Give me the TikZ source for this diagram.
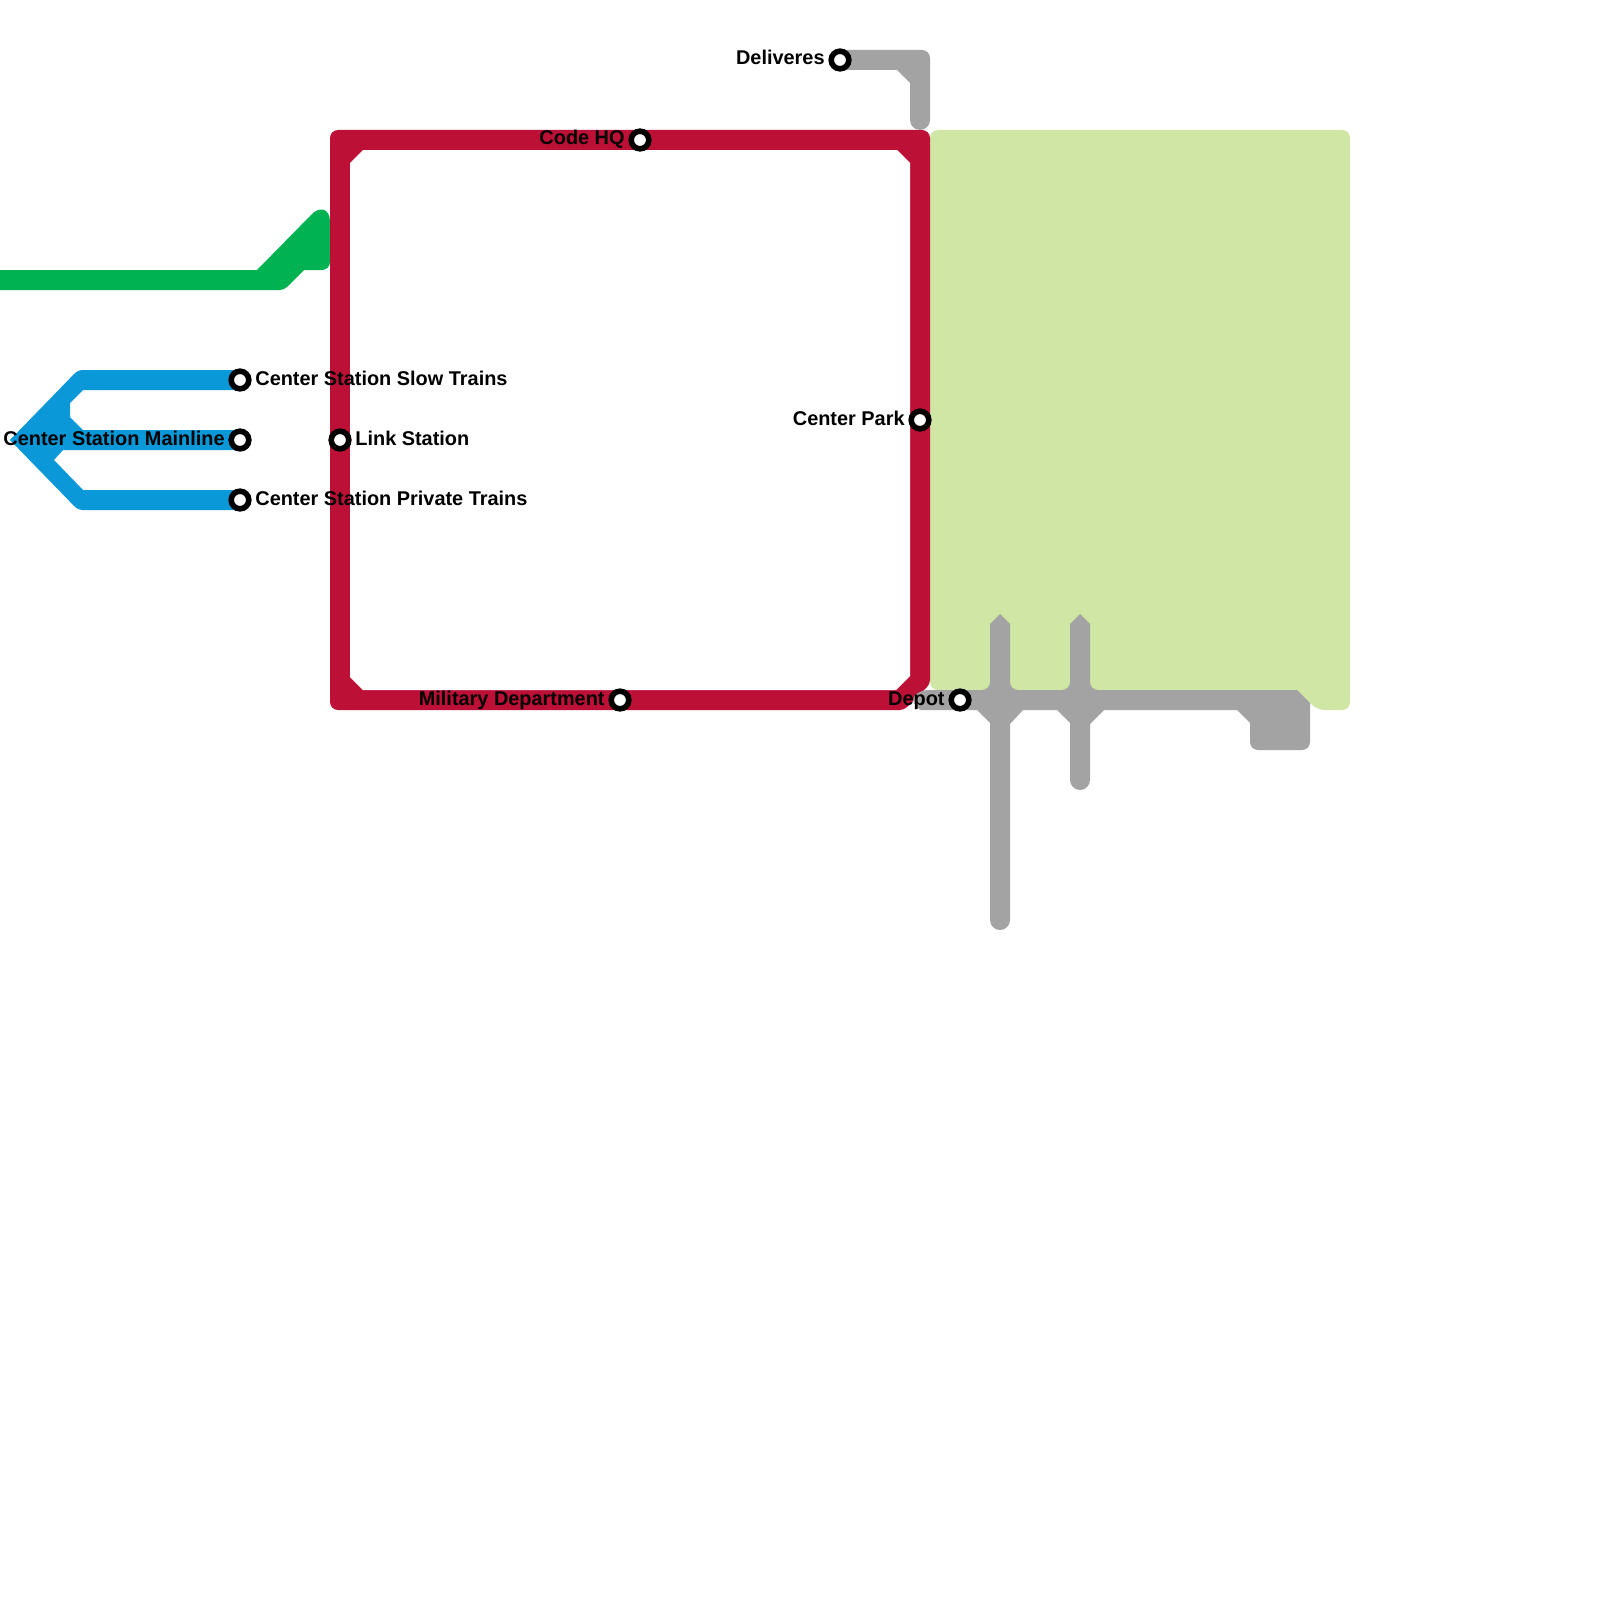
\documentclass[tikz,border=0pt]{standalone}
\usepackage{fontspec}
\setmainfont{Liberation Sans}
\usepackage{xcolor}
\usepackage{tikz}
\usetikzlibrary{positioning}
\definecolor{parkgreen}{HTML}{D0E6A5}
\definecolor{linegray}{HTML}{A3A3A3}
\definecolor{linered}{HTML}{BC1037}
\definecolor{linegreen}{HTML}{00B251}
\definecolor{lineblue}{HTML}{0A98D8}

\begin{document}
\begin{tikzpicture}[
    x=0.5pt, y=-0.5pt,
    stn/.style={circle, draw=black, fill=white, line width=2.8pt, minimum size=8.8pt, inner sep=0pt},
    lblr/.style={anchor=base west, inner sep=0pt, font=\bfseries\fontsize{9.95pt}{12pt}\selectfont, xshift=7.5pt, yshift=-2.5pt},
    lbll/.style={anchor=base east, inner sep=0pt, font=\bfseries\fontsize{9.95pt}{12pt}\selectfont, xshift=-7.5pt, yshift=-2.5pt},
    rnd/.style={rounded corners=4pt},
    rcap/.style={rounded corners=5pt},
    rdiag/.style={rounded corners=2pt},
]
    \useasboundingbox (0,0) rectangle (1600,1600);

    % Park
    \fill[parkgreen, rnd] (930,130) -- (1350,130) -- (1350,710) -- (1317,710) -- (1297,690) -- (930,690) -- cycle;

    % Green line
    \fill[linegreen] (0,270) -- (257,270) -- (313,213) .. controls (320,207) and (330,208) .. (330,222) [rnd] -- (330,270) [sharp corners] -- (304,270) [rdiag] -- (284,290) [sharp corners] -- (0,290) -- cycle;

    % Blue lines
    \fill[lineblue] (240,370) [rdiag] -- (78,370) [sharp corners] -- (10,440) [rdiag] -- (78,510) [sharp corners] -- (240,510) -- (240,490) -- (83,490) -- (54,460) -- (63,450) -- (240,450) -- (240,430) -- (83,430) -- (70,417) -- (70,403) -- (83,390) -- (240,390) -- cycle;

    % Red line
    \fill[linered, rnd] (330,130) -- (930,130) [rdiag] -- (930,684) -- (904,710) [rnd] -- (330,710) -- cycle;
    \fill[white] (350,163) -- (363,150) -- (897,150) -- (910,163) -- (910,676) -- (896,690) -- (363,690) -- (350,677) -- cycle;

    % Gray lines
    \fill[linegray, rnd] (840,50) -- (930,50) [rcap] -- (930,130) -- (910,130) [sharp corners] -- (910,83) -- (897,70) -- (840,70) -- cycle;
    \fill[linegray] (1000,614) -- (1010,624) [rnd] -- (1010,690) -- (1070,690) [sharp corners] -- (1070,624) -- (1080,614) -- (1090,624) [rnd] -- (1090,690) [sharp corners] -- (1297,690) -- (1310,703) [rnd] -- (1310,750) -- (1250,750) [sharp corners] -- (1250,723) -- (1237,710) -- (1104,710) -- (1090,724) [rcap] -- (1090,790) -- (1070,790) [sharp corners] -- (1070,723) -- (1057,710) -- (1023,710) -- (1010,724) [rcap] -- (1010,930) -- (990,930) [sharp corners] -- (990,723) -- (977,710) -- (920,710) [rnd] -- (910,700) -- (920,690) -- (990,690) [sharp corners] -- (990,624) -- cycle;

    % Stations
    \node[stn] (slow) at (240,380) {};
    \node[stn] (mainline) at (240,440) {};
    \node[stn] (private) at (240,500) {};
    \node[stn] (link) at (340,440) {};
    \node[stn] (military) at (620,700) {};
    \node[stn] (codehq) at (640,140) {};
    \node[stn] (park) at (920,420) {};
    \node[stn] (depot) at (960,700) {};
    \node[stn] (deliveres) at (840,60) {};

    % Labels
    \node[lblr] (slowlbl) at (slow) {Center Station Slow Trains};
    \node[lbll] (mainlinelbl) at (mainline) {Center Station Mainline};
    \node[lblr] (privatelbl) at (private) {Center Station Private Trains};
    \node[lblr] (linklbl) at (link) {Link Station};
    \node[lbll] (militarylbl) at (military) {Military Department};
    \node[lbll] (codehqlbl) at (codehq) {Code HQ};
    \node[lbll] (parklbl) at (park) {Center Park};
    \node[lbll] (depotlbl) at (depot) {Depot};
    \node[lbll] (delivereslbl) at (deliveres) {Deliveres};
\end{tikzpicture}
\end{document}
